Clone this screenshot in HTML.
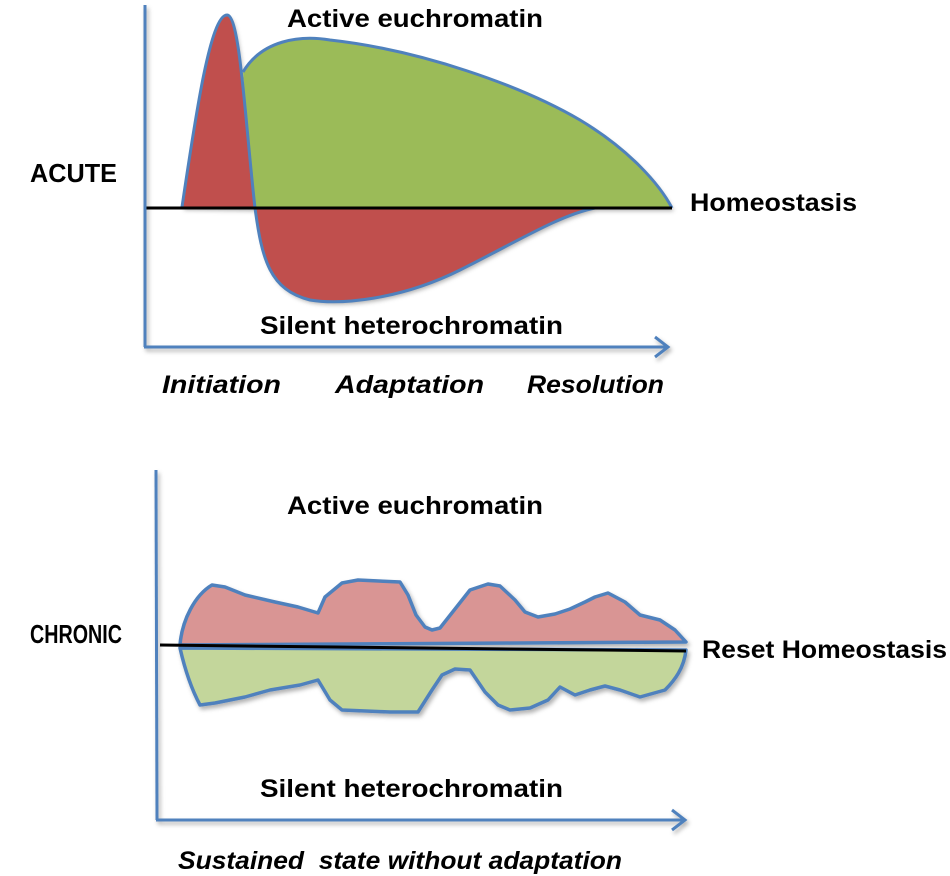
<!DOCTYPE html>
<html><head><meta charset="utf-8"><style>
html,body{margin:0;padding:0;background:#fff;width:950px;height:876px;overflow:hidden}
text{font-family:"Liberation Sans",sans-serif;font-weight:bold;fill:#000}
</style></head><body>
<svg width="950" height="876" viewBox="0 0 950 876" xmlns="http://www.w3.org/2000/svg">
<defs>
<filter id="sh" x="-10%" y="-10%" width="120%" height="130%"><feDropShadow dx="2" dy="3" stdDeviation="2" flood-color="#000" flood-opacity="0.3"/></filter>
</defs>
<!-- ACUTE -->
<g filter="url(#sh)">
<path d="M243,72 C262,40 300,35 330,40 C420,50 520,85 580,120 C630,150 660,185 672,208 L255,208 C250,160 246,110 243,72 Z" fill="#9bbb59"/>
<path d="M182,207 C195,120 210,15 227,15 C240,15 245,120 255,208 Z" fill="#c0504d"/>
<path d="M255,208 L595,208 C560,215 520,240 460,270 C400,300 340,305 310,300 C270,290 262,260 255,208 Z" fill="#c0504d"/>
</g>
<path d="M182,207 C195,120 210,15 227,15 C240,15 245,120 255,208 C262,260 270,290 310,300 C340,305 400,300 460,270 C520,240 560,215 595,208" fill="none" stroke="#4f81bd" stroke-width="3"/>
<path d="M243,72 C262,40 300,35 330,40 C420,50 520,85 580,120 C630,150 660,185 672,208" fill="none" stroke="#4f81bd" stroke-width="3"/>
<line x1="146" y1="208" x2="672" y2="208" stroke="#000" stroke-width="3"/>
<g stroke="#4f81bd" stroke-width="3" fill="none" filter="url(#sh)">
<line x1="145" y1="5" x2="145" y2="347"/>
<line x1="144" y1="347" x2="668" y2="347"/>
<polyline points="655,337 668,347 655,357"/>
</g>
<!-- CHRONIC -->
<g filter="url(#sh)">
<path d="M180,645 C182,620 195,595 212,585 L225,587 L245,595 L275,602 L298,607 L318,613 L325,597 L342,583 L358,580 L400,582 L408,595 L416,615 L425,627 L432,630 L440,628 L470,590 L488,584 L500,586 L515,600 L525,612 L538,617 L555,614 L570,609 L585,602 L595,597 L608,593 L625,602 L640,615 L660,620 L675,630 L686,642 Z" fill="#d99594" stroke="#4f81bd" stroke-width="3.5" stroke-linejoin="round"/>
<path d="M180,648 L686,650 C684,668 675,680 665,690 L640,697 L620,690 L605,686 L590,690 L575,695 L560,687 L548,700 L530,708 L510,710 L498,705 L485,692 L470,670 L455,669 L442,675 L432,690 L418,712 L390,712 L342,710 L330,700 L318,680 L300,685 L270,690 L245,697 L215,703 L200,705 C192,690 185,670 180,648 Z" fill="#c3d69b" stroke="#4f81bd" stroke-width="3.5" stroke-linejoin="round"/>
</g>
<line x1="160" y1="645" x2="686" y2="651" stroke="#000" stroke-width="3"/>
<g stroke="#4f81bd" stroke-width="3" fill="none" filter="url(#sh)">
<line x1="156" y1="470" x2="157" y2="820"/>
<line x1="156" y1="820" x2="685" y2="820"/>
<polyline points="672,810 685,820 672,830"/>
</g>
<!-- text -->
<text x="287" y="27" font-size="25" textLength="256" lengthAdjust="spacingAndGlyphs">Active euchromatin</text>
<text x="30" y="182" font-size="26" textLength="87" lengthAdjust="spacingAndGlyphs">ACUTE</text>
<text x="690" y="211" font-size="25" textLength="167" lengthAdjust="spacingAndGlyphs">Homeostasis</text>
<text x="260" y="334" font-size="25" textLength="303" lengthAdjust="spacingAndGlyphs">Silent heterochromatin</text>
<text x="162" y="393" font-size="25" font-style="italic" textLength="119" lengthAdjust="spacingAndGlyphs">Initiation</text>
<text x="335" y="393" font-size="25" font-style="italic" textLength="149" lengthAdjust="spacingAndGlyphs">Adaptation</text>
<text x="527" y="393" font-size="25" font-style="italic" textLength="137" lengthAdjust="spacingAndGlyphs">Resolution</text>
<text x="287" y="514" font-size="25" textLength="256" lengthAdjust="spacingAndGlyphs">Active euchromatin</text>
<text x="30" y="643" font-size="26" textLength="92" lengthAdjust="spacingAndGlyphs">CHRONIC</text>
<text x="702" y="658" font-size="25" textLength="245" lengthAdjust="spacingAndGlyphs">Reset Homeostasis</text>
<text x="260" y="797" font-size="25" textLength="303" lengthAdjust="spacingAndGlyphs">Silent heterochromatin</text>
<text x="178" y="869" font-size="25" font-style="italic" textLength="444" lengthAdjust="spacingAndGlyphs" xml:space="preserve">Sustained  state without adaptation</text>
</svg>
</body></html>
